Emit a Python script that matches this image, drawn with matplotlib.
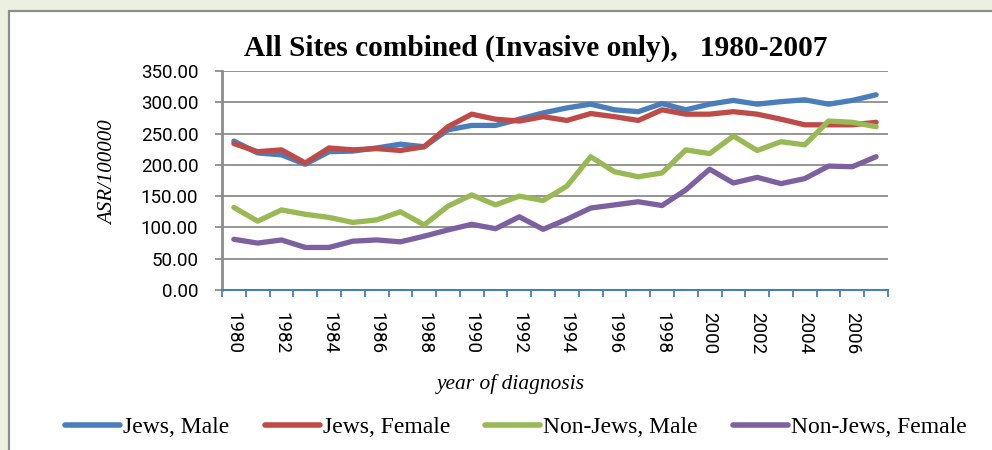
import matplotlib
matplotlib.use("Agg")
import matplotlib.pyplot as plt
from matplotlib.patches import Rectangle
from matplotlib.ticker import FixedLocator, FuncFormatter

years = list(range(1980, 2008))
jews_male = [238, 219, 216, 201, 221, 222, 227, 233, 229, 256, 263, 263, 273, 283,
             291, 297, 288, 285, 298, 288, 297, 303, 297, 301, 304, 297, 303, 312]
jews_female = [234, 221, 224, 203, 227, 224, 226, 223, 229, 261, 281, 273, 270, 277,
               271, 282, 277, 271, 288, 281, 281, 285, 281, 273, 264, 264, 264, 268]
nonjews_male = [132, 110, 128, 121, 116, 108, 112, 125, 104, 134, 152, 136, 150, 143,
                166, 213, 189, 181, 187, 224, 218, 246, 223, 237, 232, 270, 268, 261]
nonjews_female = [81, 75, 80, 68, 68, 78, 80, 77, 86, 96, 105, 98, 117, 97,
                  113, 131, 136, 141, 135, 160, 193, 171, 180, 170, 178, 198, 197, 213]
series_names = ["Jews, Male", "Jews, Female", "Non-Jews, Male", "Non-Jews, Female"]
series_colors = ["#4A7EBB", "#BE4B48", "#98B954", "#7D60A0"]
yticks = [0, 50, 100, 150, 200, 250, 300, 350]
xtick_years = list(range(1980, 2007, 2))

title = "All Sites combined (Invasive only),   1980-2007"

W, H = 992, 450
fig = plt.figure(figsize=(W / 100, H / 100), dpi=100)
fig.patch.set_facecolor("#EBF1DE")
fig.patches.append(Rectangle((9 / W, -0.05), 1.1, 1 - 11 / H + 0.05,
                             transform=fig.transFigure, facecolor="white",
                             edgecolor="#8C8C8C", linewidth=1.6, zorder=-10))

ax = fig.add_axes([222 / W, 1 - 290 / H, (888 - 222) / W, (290 - 71) / H])
ax.set_facecolor("none")

for vals, name, col in zip([jews_male, jews_female, nonjews_male, nonjews_female],
                           series_names, series_colors):
    ax.plot(years, vals, color=col, lw=3.8, label=name, solid_capstyle="round",
            solid_joinstyle="round", zorder=3)

ax.set_xlim(years[0] - 0.5, years[-1] + 0.5)
ax.set_ylim(0, 350)
ax.set_yticks(yticks)
ax.yaxis.set_major_formatter(FuncFormatter(lambda v, p: f"{v:.2f}"))
ax.grid(axis="y", color="#8C8C8C", lw=1.3, zorder=1)
ax.set_axisbelow(True)

ax.set_xticks(xtick_years)
ax.set_xticklabels([str(y) for y in xtick_years], rotation=-90)
ax.xaxis.set_minor_locator(FixedLocator([y - 0.5 for y in years] + [years[-1] + 0.5]))
ax.tick_params(axis="x", which="major", length=0, pad=16, labelsize=13.5)
ax.tick_params(axis="x", which="minor", length=5, width=1.3, color="#4A7EBB", direction="out")
ax.tick_params(axis="y", length=5, width=1.3, color="#8C8C8C", pad=12, labelsize=13.5)
for lab in ax.get_xticklabels() + ax.get_yticklabels():
    lab.set_fontfamily("Roboto")
    lab.set_color("#000000")

for s in ["top", "right"]:
    ax.spines[s].set_visible(False)
ax.spines["left"].set_color("#8C8C8C")
ax.spines["left"].set_linewidth(2)
ax.spines["bottom"].set_color("#4A7EBB")
ax.spines["bottom"].set_linewidth(1.5)

fig.text(536 / W, 1 - 48 / H, title, ha="center", va="center",
         fontsize=21.2, fontweight="bold", family="Liberation Serif")
fig.text(109 / W, 1 - 173 / H, "ASR/100000", rotation=90, ha="center", va="center",
         fontsize=15, style="italic", family="Liberation Serif")
fig.text(511 / W, 1 - 384 / H, "year of diagnosis", ha="center", va="center",
         fontsize=15.4, style="italic", family="Liberation Serif")

handles, labels = ax.get_legend_handles_labels()
leg = fig.legend(handles, labels, loc="center", bbox_to_anchor=(516 / W, 1 - 427 / H),
                 ncol=4, frameon=False, handlelength=2.33, handletextpad=0.12,
                 columnspacing=1.5, prop={"family": "Liberation Serif", "size": 17},
                 borderaxespad=0, borderpad=0)
for h in leg.get_lines():
    h.set_linewidth(4)

fig.savefig("out.png", dpi=100, facecolor=fig.get_facecolor())
